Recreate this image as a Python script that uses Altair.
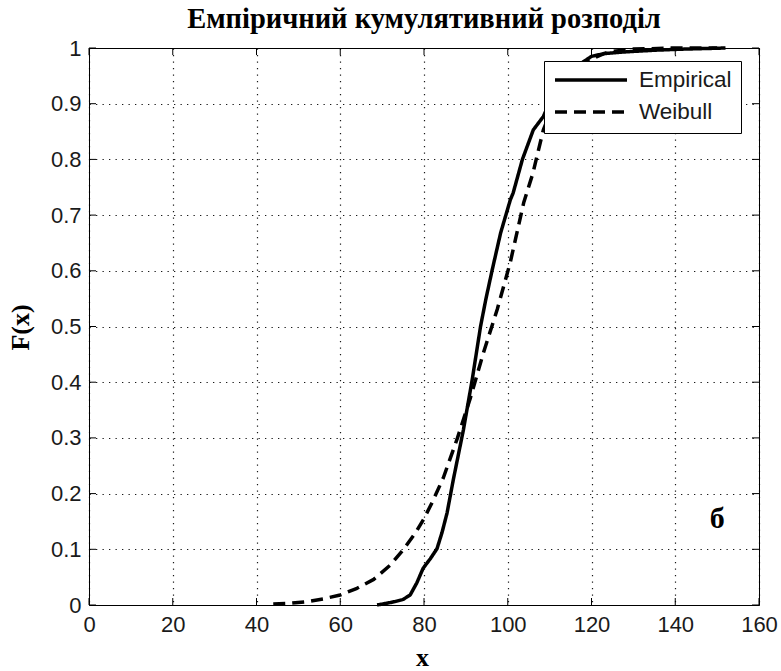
import altair as alt
import pandas as pd

# ---- data ----
emp_x = [68.8, 71, 73, 75, 76.7, 78.3, 79.8, 81.5, 83.1, 84.3, 85.5, 87.0, 89.4, 91.5,
         93.5, 94.8, 96.3, 98.3, 100.6, 101.3, 103.5, 106.1, 108.5, 111, 114, 117, 120,
         123, 128, 135, 142, 152]
emp_y = [0.0, 0.003, 0.006, 0.01, 0.018, 0.04, 0.066, 0.083, 0.101, 0.13, 0.165, 0.225,
         0.314, 0.404, 0.5, 0.55, 0.602, 0.668, 0.727, 0.74, 0.8, 0.853, 0.877, 0.92,
         0.95, 0.97, 0.985, 0.99, 0.993, 0.996, 0.998, 1.0]
wei_x = [44, 48, 52, 56, 60, 64, 68, 72, 75, 78, 80, 82, 84.6, 88, 91, 94.2, 97.5, 100.6,
         103.8, 106, 108.5, 111, 114, 117, 120, 124, 130, 140, 150]
wei_y = [0.002, 0.003, 0.006, 0.011, 0.018, 0.03, 0.046, 0.072, 0.099, 0.13, 0.155, 0.185,
         0.228, 0.3, 0.37, 0.453, 0.531, 0.615, 0.722, 0.775, 0.853, 0.9, 0.94, 0.965,
         0.98, 0.993, 0.998, 1.0, 1.0]
series_names = ["Empirical", "Weibull"]
x_ticks = [0, 20, 40, 60, 80, 100, 120, 140, 160]
y_ticks = [0, 0.1, 0.2, 0.3, 0.4, 0.5, 0.6, 0.7, 0.8, 0.9, 1.0]
ann_x = [150]
ann_y = [0.155]
ann_text = ["б"]

df = pd.concat([
    pd.DataFrame({"x": emp_x, "y": emp_y, "series": series_names[0]}),
    pd.DataFrame({"x": wei_x, "y": wei_y, "series": series_names[1]}),
])

W, H = 670, 557
TICK = 7
SANS = "Liberation Sans"
SERIF = "Liberation Serif"

xscale = alt.Scale(domain=[0, 160], nice=False, zero=False)
yscale = alt.Scale(domain=[0, 1], nice=False)

x_axis = alt.Axis(values=x_ticks, title="x", format="d", grid=True, domain=False,
                  ticks=False, labelFlush=False, labelOverlap=False, labelPadding=9,
                  labelFont=SANS, labelFontSize=22, labelColor="#1a1a1a",
                  titleFont=SERIF, titleFontSize=26, titleFontWeight="bold",
                  titleColor="black", titleX=333, titleY=60, titleBaseline="alphabetic",
                  titleAlign="center")
y_axis = alt.Axis(values=y_ticks, title="F(x)", format="~g", grid=True, domain=False,
                  ticks=False, labelFlush=False, labelOverlap=False, labelPadding=8,
                  labelFont=SANS, labelFontSize=22, labelColor="#1a1a1a",
                  titleFont=SERIF, titleFontSize=26, titleFontWeight="bold",
                  titleColor="black", titleX=-69, titleY=279, titleAngle=270,
                  titleBaseline="middle", titleAlign="center")

legend = alt.Legend(title=None, orient="none", legendX=455, legendY=13,
                    fillColor="white", strokeColor="black", padding=9,
                    cornerRadius=0, symbolType="stroke", symbolSize=5184,
                    symbolStrokeWidth=3.5, labelFont=SANS, labelFontSize=22.5,
                    labelColor="#1a1a1a", labelOffset=10, rowPadding=9, clipHeight=20)

X = alt.X("x:Q", scale=xscale, axis=x_axis)
Y = alt.Y("y:Q", scale=yscale, axis=y_axis)

lines = alt.Chart(df).mark_line(strokeWidth=3.5, strokeJoin="round").encode(
    x=X,
    y=Y,
    color=alt.Color("series:N", scale=alt.Scale(domain=series_names, range=["black", "black"]),
                    legend=legend),
    strokeDash=alt.StrokeDash("series:N",
                              scale=alt.Scale(domain=series_names, range=[[1, 0], [12, 7]]),
                              legend=legend),
)

xt = pd.DataFrame({"x": x_ticks})
yt = pd.DataFrame({"y": y_ticks})
bottom_ticks = alt.Chart(xt).mark_rule(color="black", strokeWidth=1).encode(
    x=X, y=alt.value(H), y2=alt.value(H - TICK))
top_ticks = alt.Chart(xt).mark_rule(color="black", strokeWidth=1).encode(
    x=X, y=alt.value(0), y2=alt.value(TICK))
left_ticks = alt.Chart(yt).mark_rule(color="black", strokeWidth=1).encode(
    y=Y, x=alt.value(0), x2=alt.value(TICK))
right_ticks = alt.Chart(yt).mark_rule(color="black", strokeWidth=1).encode(
    y=Y, x=alt.value(W), x2=alt.value(W - TICK))

ann = alt.Chart(pd.DataFrame({"x": ann_x, "y": ann_y, "t": ann_text})).mark_text(
    font=SERIF, fontSize=30, fontWeight="bold", color="black", align="center",
    baseline="middle").encode(x=X, y=Y, text="t:N")

chart = alt.layer(lines, bottom_ticks, top_ticks, left_ticks, right_ticks, ann).properties(
    width=W, height=H,
    padding={"left": 89, "top": 48, "right": 22, "bottom": 66},
    autosize=alt.AutoSizeParams(type="none"),
    title=alt.TitleParams("Емпіричний кумулятивний розподіл", font=SERIF, fontSize=28.5,
                          fontWeight="bold", color="black", anchor="middle",
                          frame="group", offset=4),
    background="white",
).configure_view(stroke="black", strokeWidth=1).configure_axis(
    gridColor="black", gridDash=[1.3, 5.2], gridWidth=1.2, gridOpacity=0.9)

chart.save("out.html", embed_options={"renderer": "svg", "actions": False})
